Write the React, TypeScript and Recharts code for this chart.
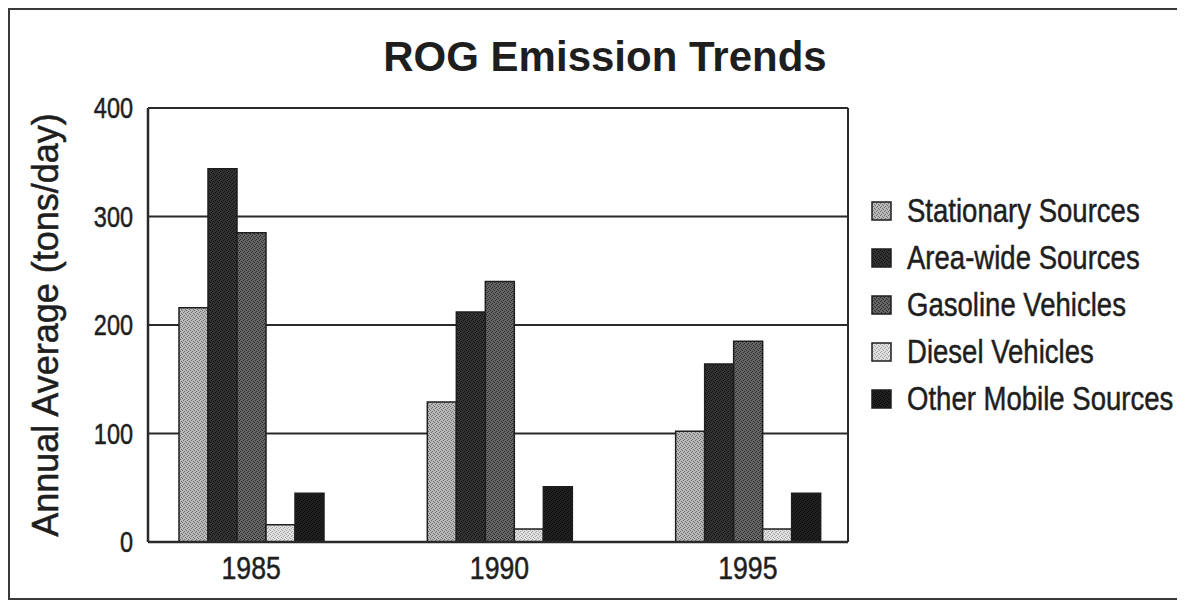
import { BarChart, Bar, XAxis, YAxis, CartesianGrid, Legend, Label } from "recharts";

const years = ['1985', '1990', '1995'];
const stationary = [216, 129, 102];
const areaWide = [344, 212, 164];
const gasoline = [285, 240, 185];
const diesel = [16, 12, 12];
const otherMobile = [45, 51, 45];
const yTicks = [0, 100, 200, 300, 400];

const seriesKeys = ['stationary', 'areaWide', 'gasoline', 'diesel', 'otherMobile'];
const seriesNames = ['Stationary Sources', 'Area-wide Sources', 'Gasoline Vehicles', 'Diesel Vehicles', 'Other Mobile Sources'];
const seriesBase = ['#b8b8b8', '#333333', '#666666', '#e0e0e0', '#202020'];
const seriesDots = ['#707070', '#121212', '#2a2a2a', '#a0a0a0', '#0a0a0a'];

const data = years.map((year, i) => ({
    year,
    stationary: stationary[i],
    areaWide: areaWide[i],
    gasoline: gasoline[i],
    diesel: diesel[i],
    otherMobile: otherMobile[i],
}));

// no narrow font installed, so squeeze Liberation Sans horizontally
const font = "'Liberation Sans', Arial, sans-serif";
const ink = '#1e1e1e';

function LegendBox() {
    return (
        <div style={{ fontFamily: font, fontSize: 34, color: ink, WebkitTextStroke: '0.5px #1e1e1e' }}>
            {seriesNames.map((name, i) => (
                <div key={name} style={{ display: 'flex', alignItems: 'center', height: 47, whiteSpace: 'nowrap' }}>
                    <svg width={21} height={20} style={{ marginRight: 15, flexShrink: 0 }}>
                        <rect x={1} y={1} width={19} height={18} fill={`url(#pat-${seriesKeys[i]})`} stroke={ink} strokeWidth={1.5} />
                    </svg>
                    <span style={{ display: 'inline-block', transform: 'scaleX(0.81)', transformOrigin: 'left center' }}>{name}</span>
                </div>
            ))}
        </div>
    );
}

function XTick(props: any) {
    const { x, y, payload } = props;
    return (
        <g transform={`translate(${x},${y})`}>
            <text transform="scale(0.86,1)" textAnchor="middle" dy="0.71em" fontFamily={font} fontSize={31} fill={ink}
                stroke={ink} strokeWidth={0.5}>
                {payload.value}
            </text>
        </g>
    );
}

function YTick(props: any) {
    const { x, y, payload } = props;
    return (
        <g transform={`translate(${x},${y})`}>
            <text transform="scale(0.81,1)" textAnchor="end" dy="0.36em" fontFamily={font} fontSize={29} fill={ink}
                stroke={ink} strokeWidth={0.5}>
                {payload.value}
            </text>
        </g>
    );
}

function YLabel(props: any) {
    const vb = props.viewBox;
    const cx = vb.x + 15;
    const cy = vb.y + vb.height / 2;
    return (
        <text x={cx} y={cy} transform={`rotate(-90 ${cx} ${cy})`} textAnchor="middle" dominantBaseline="central"
            fontFamily={font} fontSize={36} fill={ink} stroke={ink} strokeWidth={0.5}>
            Annual Average (tons/day)
        </text>
    );
}

function CustomChart() {
    return (
        <div style={{ position: 'relative', width: 1171, height: 588, border: '2px solid #3a3a3a', background: '#fff' }}>
            <div style={{ position: 'absolute', left: 195, top: 26, width: 800, textAlign: 'center', fontFamily: font,
                fontWeight: 'bold', fontSize: 42, lineHeight: '42px', color: ink, zIndex: 2 }}>
                ROG Emission Trends
            </div>
            <BarChart width={1171} height={588} data={data} barSize={29} barGap={0}
                margin={{ top: 98, right: 333, left: 20, bottom: 0 }}>
                <defs>
                    {seriesKeys.map((k, i) => (
                        <pattern key={k} id={`pat-${k}`} width={4} height={4} patternUnits="userSpaceOnUse">
                            <rect width={4} height={4} fill={seriesBase[i]} />
                            <rect x={0} y={0} width={1} height={1} fill={seriesDots[i]} />
                            <rect x={2} y={1} width={1} height={1} fill={seriesDots[i]} />
                            <rect x={1} y={2} width={1} height={1} fill={seriesDots[i]} />
                            <rect x={3} y={3} width={1} height={1} fill={seriesDots[i]} />
                        </pattern>
                    ))}
                </defs>
                <CartesianGrid stroke="#2a2a2a" strokeWidth={2}
                    verticalCoordinatesGenerator={({ offset }: any) => [offset.left + offset.width]} />
                <XAxis dataKey="year" padding={{ left: -21, right: -24 }} tickLine={false} tickSize={0} tickMargin={15}
                    axisLine={{ stroke: '#2a2a2a', strokeWidth: 2.5 }} height={56} tick={<XTick />} />
                <YAxis domain={[0, 400]} ticks={yTicks} width={118} tickLine={false} tickSize={0} tickMargin={15}
                    axisLine={{ stroke: '#2a2a2a', strokeWidth: 2.5 }} tick={<YTick />}>
                    <Label content={<YLabel />} />
                </YAxis>
                {seriesKeys.map((k, i) => (
                    <Bar key={k} dataKey={k} name={seriesNames[i]} fill={`url(#pat-${k})`}
                        stroke={ink} strokeWidth={1.5} isAnimationActive={false} />
                ))}
                <Legend layout="horizontal" verticalAlign="middle" align="center" content={<LegendBox />}
                    wrapperStyle={{ left: 861, top: 177, width: 310, height: 240 }} />
            </BarChart>
        </div>
    );
}

export default function App() {
    return <CustomChart />;
}
